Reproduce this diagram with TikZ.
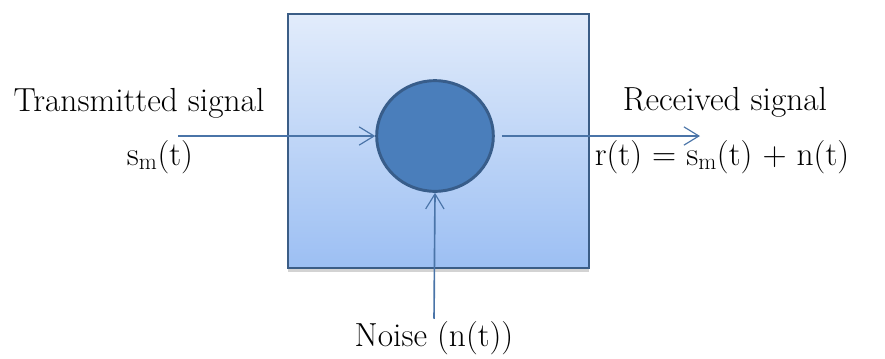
\documentclass[tikz,border=0pt]{standalone}
\usepackage{fontspec}
\usetikzlibrary{positioning,arrows.meta,shapes.geometric,shadows}
\definecolor{linkblue}{HTML}{4A74A8}
\definecolor{boxtop}{HTML}{E2ECFB}
\definecolor{boxbot}{HTML}{9CBFF3}
\definecolor{sumfill}{HTML}{4A7EBB}
\definecolor{sumedge}{HTML}{385D8A}
\begin{document}
\begin{tikzpicture}[x=0.03cm,y=-0.03cm,
  >={Straight Barb[length=4.5mm,width=5.5mm,line width=1pt]},
  lbl/.style={font=\rmfamily\fontsize{28.5}{34}\selectfont,inner sep=0pt},
  sig/.style={->,draw=linkblue,line width=1.4pt}]
\useasboundingbox (0,0) rectangle (885,358);
\node[draw=linkblue!80!black,line width=1.2pt,top color=boxtop,bottom color=boxbot,
  minimum width=9.03cm,minimum height=7.62cm,
  drop shadow={shadow xshift=0pt,shadow yshift=-3pt,opacity=0.35}] (chan) at (438.5,141) {};
\node[ellipse,draw=sumedge,line width=2.5pt,fill=sumfill,minimum width=3.5cm,minimum height=3.32cm] (sum) at (435,136) {};
\node[lbl] (tx) at (139,103) {Transmitted signal};
\node[lbl] (sm) at (160,157) {s\textsubscript{m}(t)};
\node[lbl] (rx) at (725,102) {Received signal};
\node[lbl] (rt) at (722,157) {r(t) = s\textsubscript{m}(t) + n(t)};
\node[lbl] (noise) at (434,338) {Noise (n(t))};
\coordinate (txin) at (178,136);
\coordinate (rxout) at (700,136);
\draw[sig] (txin) -- (sum.west);
\draw[sig,shorten <=6pt] (sum.east) -- (rxout);
\draw[sig,shorten <=2pt] (noise.north) -- (sum.south);
\end{tikzpicture}
\end{document}
